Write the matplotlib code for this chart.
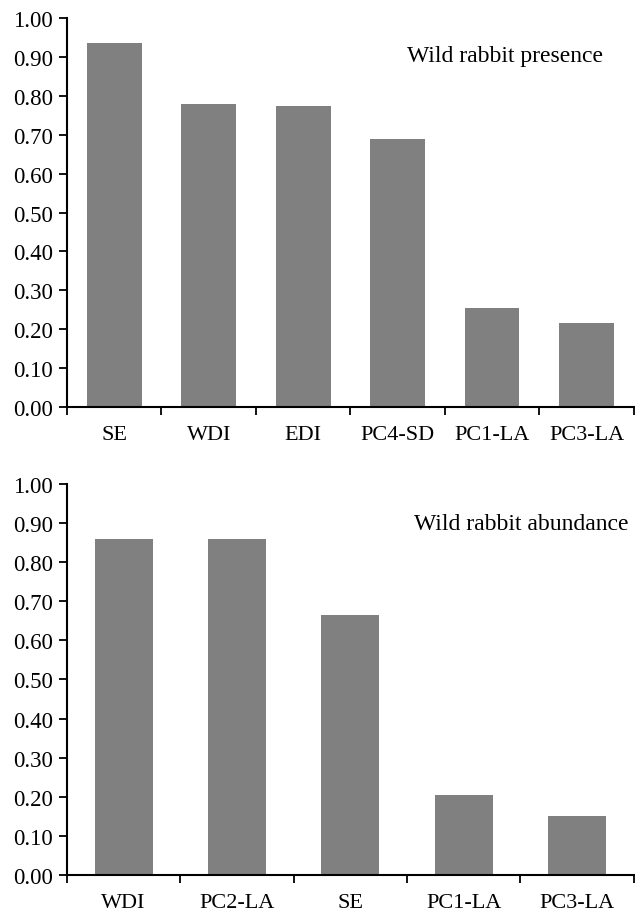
import numpy as np
import matplotlib
matplotlib.use('Agg')
import matplotlib.pyplot as plt
from matplotlib import ticker

plt.rcParams['font.family'] = ['Liberation Serif', 'DejaVu Serif']

# top panel: presence
pres_labels = ['SE', 'WDI', 'EDI', 'PC4-SD', 'PC1-LA', 'PC3-LA']
pres_values = [0.935, 0.779, 0.773, 0.688, 0.255, 0.216]

# bottom panel: abundance
abun_labels = ['WDI', 'PC2-LA', 'SE', 'PC1-LA', 'PC3-LA']
abun_values = [0.859, 0.859, 0.665, 0.205, 0.152]

yticks = np.arange(0, 1.01, 0.1)

fig = plt.figure(figsize=(6.35, 9.12), dpi=100)
ax1 = fig.add_axes([0.1055, 0.5526, 0.8925, 0.4264])
ax2 = fig.add_axes([0.1055, 0.0395, 0.8925, 0.4287])


def panel(ax, labels, values, title, width):
    n = len(labels)
    x = np.arange(n)
    ax.bar(x, values, width=width, color='#808080', edgecolor='none')
    ax.set_xlim(-0.5, n - 0.5)
    ax.set_ylim(0, 1.0)
    ax.set_yticks(yticks)
    ax.yaxis.set_major_formatter(ticker.FormatStrFormatter('%.2f'))
    ax.set_xticks(np.arange(n + 1) - 0.5)
    ax.set_xticklabels([])
    ax.set_xticks(x, minor=True)
    ax.set_xticklabels(labels, minor=True)
    ax.tick_params(axis='x', which='major', direction='out', length=6, width=1.3)
    ax.tick_params(axis='x', which='minor', length=0, pad=13, labelsize=16)
    ax.tick_params(axis='y', direction='out', length=6, width=1.3, pad=4, labelsize=16.5)
    for s in ['top', 'right']:
        ax.spines[s].set_visible(False)
    for s in ['left', 'bottom']:
        ax.spines[s].set_linewidth(1.5)
    ax.spines['left'].set_bounds(0, 1.0)
    ax.text(0.945, 0.905, title, transform=ax.transAxes, ha='right', va='center', fontsize=17)


panel(ax1, pres_labels, pres_values, 'Wild rabbit presence', 0.58)
panel(ax2, abun_labels, abun_values, 'Wild rabbit abundance', 0.51)
ax2.texts[0].set_x(0.99)
ax2.texts[0].set_y(0.9)

fig.savefig('out.png', dpi=100)
